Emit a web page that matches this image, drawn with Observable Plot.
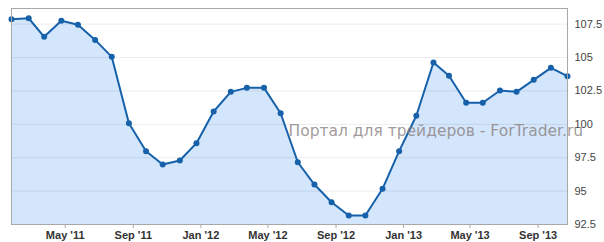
<!DOCTYPE html>
<html>
<head>
<meta charset="utf-8">
<script src="https://cdn.jsdelivr.net/npm/d3@7"></script>
<script src="https://cdn.jsdelivr.net/npm/@observablehq/plot@0.6"></script>
<style>
  html, body { margin: 0; padding: 0; background: #fff; }
  #chart svg { display: block; }
</style>
</head>
<body>
<div id="chart"></div>
<script>
const months = [
  "2011-01","2011-02","2011-03","2011-04","2011-05","2011-06","2011-07","2011-08","2011-09","2011-10","2011-11","2011-12",
  "2012-01","2012-02","2012-03","2012-04","2012-05","2012-06","2012-07","2012-08","2012-09","2012-10","2012-11","2012-12",
  "2013-01","2013-02","2013-03","2013-04","2013-05","2013-06","2013-07","2013-08","2013-09","2013-10"
];
const values = [
  107.87,107.94,106.55,107.75,107.45,106.32,105.05,100.08,97.99,96.99,97.29,98.59,
  100.96,102.43,102.73,102.73,100.83,97.16,95.49,94.17,93.17,93.17,95.17,97.99,
  100.64,104.63,103.63,101.61,101.61,102.53,102.43,103.33,104.23,103.60
];
const yTicks = [92.5, 95, 97.5, 100, 102.5, 105, 107.5];
const xTickMonths = ["2011-05","2011-09","2012-01","2012-05","2012-09","2013-01","2013-05","2013-09"];
const watermark = "Портал для трейдеров - ForTrader.ru";

const data = months.map((m, i) => ({date: new Date(m + "-24T00:00:00Z"), value: values[i]}));
const xTicks = xTickMonths.map(m => new Date(m + "-01T00:00:00Z"));
const ruBase = 92.5;

const chart = Plot.plot({
  width: 604,
  height: 242,
  marginLeft: 11,
  marginRight: 37,
  marginTop: 8,
  marginBottom: 18,
  style: {fontFamily: "'Liberation Sans', Arial, sans-serif", fontSize: "11px", color: "#333", background: "#fff"},
  x: {type: "utc", domain: d3.extent(data, d => d.date), label: null},
  y: {domain: [92.5, 108.67], label: null},
  marks: [
    Plot.areaY(data, {x: "date", y1: ruBase, y2: "value", fill: "#d3e6fc"}),
    Plot.ruleY(yTicks, {stroke: "#000", strokeOpacity: 0.08}),
    Plot.line(data, {x: "date", y: "value", stroke: "#1661aa", strokeWidth: 2}),
    Plot.dot(data, {x: "date", y: "value", r: 3, fill: "#1661aa"}),
    Plot.frame({stroke: "#a8a8a8"}),
    Plot.axisY({anchor: "right", ticks: yTicks, tickSize: 0, tickPadding: 7, fill: "#444", label: null, tickFormat: d => String(d)}),
    Plot.axisX({ticks: xTicks, tickSize: 4, tickPadding: 3, stroke: "#a8a8a8", fill: "#333", label: null, tickFormat: d3.utcFormat("%b '%y"), fontWeight: "bold"}),
    Plot.text([watermark], {frameAnchor: "top-left", dx: 277, dy: 123, text: d => d, textAnchor: "start", lineAnchor: "middle",
      fontFamily: "'DejaVu Sans', sans-serif", fontSize: 15.5, fill: "#8a7f7f", fillOpacity: 0.8})
  ]
});
document.getElementById("chart").appendChild(chart);
</script>
</body>
</html>
